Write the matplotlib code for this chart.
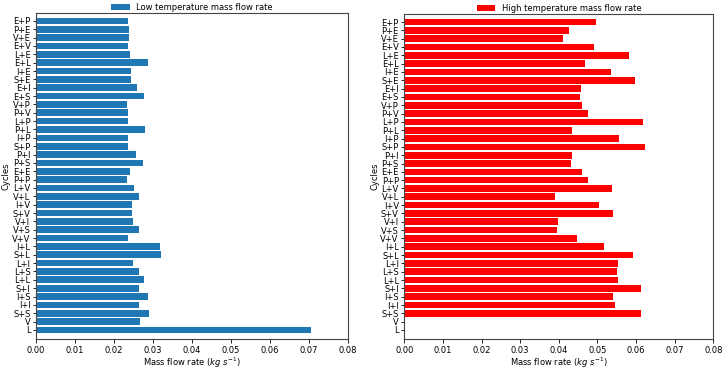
import matplotlib
matplotlib.use('Agg')
import matplotlib.pyplot as plt
import numpy as np

# Cycle labels (top to bottom as shown)
cycles = ['E+P', 'P+E', 'V+E', 'E+V', 'L+E', 'E+L', 'I+E', 'S+E', 'E+I', 'E+S',
          'V+P', 'P+V', 'L+P', 'P+L', 'I+P', 'S+P', 'P+I', 'P+S', 'E+E', 'P+P',
          'L+V', 'V+L', 'I+V', 'S+V', 'V+I', 'V+S', 'V+V', 'I+L', 'S+L', 'L+I',
          'L+S', 'L+L', 'S+I', 'I+S', 'I+I', 'S+S', 'V', 'L']

# Mass flow rates (kg/s), same order as cycles
low_temp = [0.0236, 0.0238, 0.0237, 0.0236, 0.0240, 0.0287, 0.0243, 0.0243, 0.0258, 0.0277,
            0.0232, 0.0235, 0.0235, 0.0280, 0.0235, 0.0235, 0.0257, 0.0275, 0.0240, 0.0234,
            0.0250, 0.0263, 0.0246, 0.0246, 0.0248, 0.0263, 0.0236, 0.0317, 0.0321, 0.0248,
            0.0263, 0.0277, 0.0265, 0.0287, 0.0265, 0.0289, 0.0267, 0.0706]

high_temp = [0.0496, 0.0427, 0.0412, 0.0491, 0.0582, 0.0468, 0.0535, 0.0597, 0.0457, 0.0454,
             0.0459, 0.0475, 0.0617, 0.0434, 0.0556, 0.0624, 0.0434, 0.0431, 0.0461, 0.0475,
             0.0537, 0.0390, 0.0505, 0.0541, 0.0398, 0.0394, 0.0448, 0.0517, 0.0593, 0.0553,
             0.0550, 0.0553, 0.0612, 0.0540, 0.0545, 0.0614, 0.0, 0.0]

plt.rcParams['font.size'] = 6

fig = plt.figure(figsize=(7.22, 3.71), dpi=100)
ax1 = fig.add_axes([0.050, 0.087, 0.432, 0.878])
ax2 = fig.add_axes([0.560, 0.087, 0.428, 0.875])

# reverse so the first label is at the top
y = np.arange(len(cycles))[::-1]

ax1.barh(y, low_temp, color='#1f77b4', label='Low temperature mass flow rate')
ax2.barh(y, high_temp, color='red', label='High temperature mass flow rate')

for ax in (ax1, ax2):
    ax.set_yticks(y)
    ax.set_yticklabels(cycles)
    ax.set_xlim(0, 0.08)
    ax.set_xticks(np.arange(0, 0.081, 0.01))
    ax.set_xticklabels(['%.2f' % v for v in np.arange(0, 0.081, 0.01)])
    ax.set_ylim(-1.05, len(cycles) - 0.05)
    ax.set_xlabel(r'Mass flow rate ($kg\ s^{-1}$)', labelpad=0.5)
    ax.set_ylabel('Cycles', labelpad=1)
    ax.tick_params(axis='y', pad=1.5, length=2.5, width=0.6)
    ax.tick_params(axis='x', length=3, width=0.6, pad=2.5)
    ax.legend(loc='lower center', bbox_to_anchor=(0.5, 1.0), frameon=False,
              borderaxespad=0, borderpad=0.1, handlelength=2.2)
    for s in ax.spines.values():
        s.set_color('#444444')
        s.set_linewidth(0.8)

fig.savefig('out.png', dpi=100)
